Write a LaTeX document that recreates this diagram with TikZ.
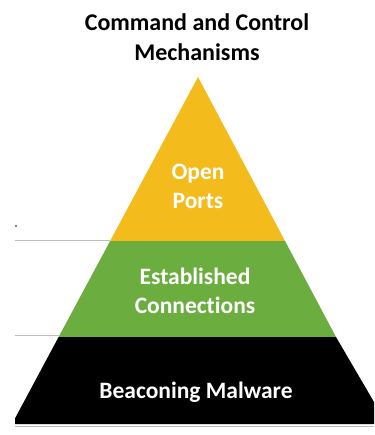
\documentclass[tikz,border=0pt]{standalone}
\usepackage{fontspec}
\setmainfont{Carlito}[Ligatures={NoCommon}]
\usepackage{xcolor}
\usepackage{tikz}
\definecolor{pyrgold}{HTML}{F4BB1C}
\definecolor{pyrgreen}{HTML}{6BAE3F}
\definecolor{pyrrule}{HTML}{BDBDBD}
\tikzset{
  pyrtext/.style = {align=center, inner sep=0pt, text centered,
    font=\bfseries\fontsize{23.5}{29}\selectfont},
  pyr_title/.style = {pyrtext, black,
    font=\bfseries\fontsize{24}{30}\selectfont},% titre
  pyr_lbl/.style = {pyrtext, white},% texte dans la pyramide
  pyr_rule/.style = {draw=pyrrule, line width=0.9pt}% lignes grises
}

\begin{document}
\begin{tikzpicture}[x=1pt,y=-1pt]
\useasboundingbox (0,0) rectangle (374,435);
% lignes grises a gauche
\draw [pyr_rule] (15,240) -- (110,240);
\draw [pyr_rule] (15,335) -- (59,335);
\draw [pyr_rule] (15,426.5) -- (374,426.5);
\fill [black] (16,226) circle (0.9);
% les trois couches
\fill [pyrgold] (198,77) -- (285,241) -- (110.1,241) -- cycle;
\fill [pyrgreen] (110.1,241) -- (285,241) -- (336,337) -- (58.6,337) -- cycle;
\fill [black] (58.6,337) -- (336,337) -- (374,402) -- (374,424)
  -- (15,424) -- (15,418.4) -- cycle;
% textes
\node [pyr_title] (title) at (197,37) {Command and Control\\Mechanisms};
\node [pyr_lbl] (ports) at (198,186) {Open\\Ports};
\node [pyr_lbl] (conn) at (195,291) {Established\\Connections};
\node [pyr_lbl] (malw) at (196,392) {Beaconing Malware};
\end{tikzpicture}
\end{document}
